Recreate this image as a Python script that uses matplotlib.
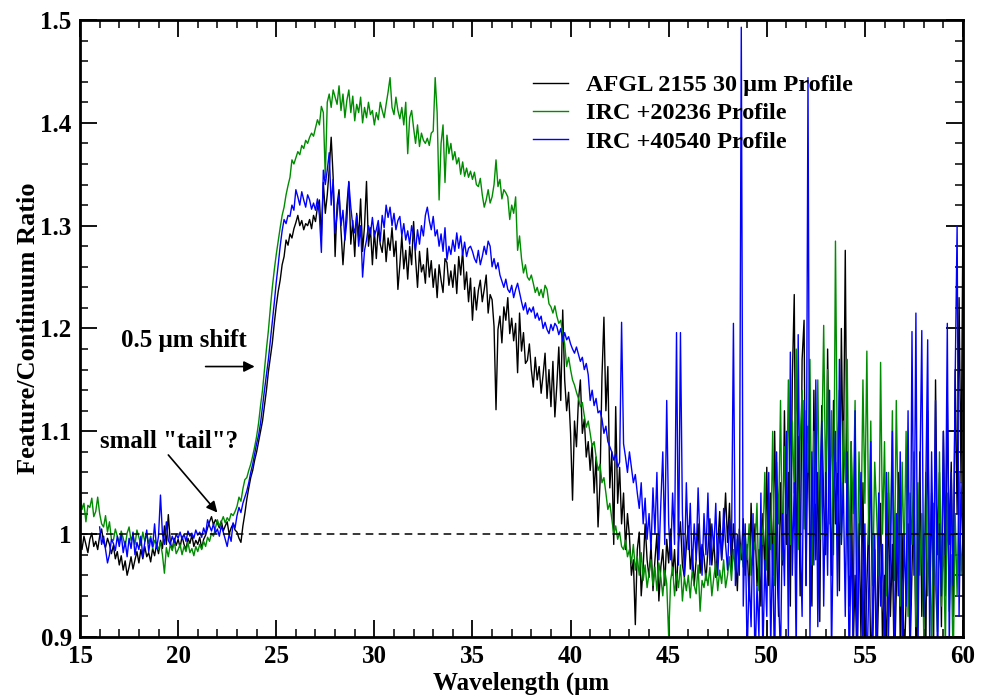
import numpy as np
import matplotlib
matplotlib.use("Agg")
import matplotlib.pyplot as plt
from matplotlib.ticker import MultipleLocator, FuncFormatter

plt.rcParams['font.family'] = ['Liberation Serif', 'DejaVu Serif']
plt.rcParams['font.weight'] = 'bold'

# feature/continuum ratios, sampled every 0.1 um (one row = 1 um)
afgl_start = 15.0
afgl = [
    0.992, 0.985, 0.998, 0.990, 0.982, 0.995, 1.001, 0.988, 0.993, 0.985,  # 15
    0.998, 1.005, 0.992, 0.987, 0.996, 0.990, 0.981, 0.989, 0.976, 0.983,
    0.970, 0.979, 0.965, 0.974, 0.960, 0.968, 0.978, 0.966, 0.975, 0.983,
    0.972, 0.985, 0.976, 0.988, 0.978, 0.982, 0.973, 0.986, 0.979, 0.990,
    0.981, 0.994, 0.986, 1.008, 0.990, 1.019, 0.992, 0.985, 0.996, 0.989,
    0.995, 0.987, 0.998, 0.990, 0.985, 0.996, 0.991, 0.999, 0.988, 0.994,  # 20
    0.990, 0.997, 0.986, 0.995, 0.999, 1.006, 1.012, 1.017, 1.009, 1.014,
    1.011, 1.006, 1.013, 1.003, 1.008, 1.012, 1.000, 1.006, 1.010, 1.004,
    1.002, 0.996, 0.992, 1.008, 1.020, 1.034, 1.045, 1.055, 1.062, 1.072,
    1.080, 1.090, 1.100, 1.110, 1.125, 1.140, 1.158, 1.172, 1.186, 1.205,
    1.222, 1.236, 1.247, 1.262, 1.270, 1.286, 1.281, 1.292, 1.288, 1.297,  # 25
    1.303, 1.310, 1.300, 1.305, 1.296, 1.302, 1.300, 1.306, 1.297, 1.310,
    1.304, 1.318, 1.325, 1.290, 1.342, 1.312, 1.330, 1.355, 1.386, 1.347,
    1.270, 1.320, 1.335, 1.295, 1.262, 1.290, 1.320, 1.343, 1.282, 1.305,
    1.270, 1.312, 1.288, 1.326, 1.275, 1.300, 1.343, 1.280, 1.298, 1.262,
    1.295, 1.268, 1.300, 1.282, 1.274, 1.296, 1.265, 1.288, 1.276, 1.298,  # 30
    1.270, 1.285, 1.238, 1.262, 1.290, 1.258, 1.276, 1.248, 1.280, 1.262,
    1.304, 1.268, 1.240, 1.275, 1.255, 1.262, 1.244, 1.278, 1.250, 1.266,
    1.240, 1.258, 1.230, 1.262, 1.247, 1.235, 1.268, 1.264, 1.242, 1.256,
    1.240, 1.262, 1.234, 1.270, 1.252, 1.276, 1.238, 1.255, 1.226, 1.249,
    1.208, 1.240, 1.218, 1.237, 1.247, 1.226, 1.238, 1.252, 1.215, 1.233,  # 35
    1.228, 1.202, 1.121, 1.199, 1.212, 1.186, 1.221, 1.208, 1.230, 1.195,
    1.210, 1.188, 1.205, 1.157, 1.215, 1.178, 1.196, 1.166, 1.169, 1.185,
    1.160, 1.143, 1.172, 1.150, 1.163, 1.137, 1.155, 1.176, 1.132, 1.160,
    1.124, 1.168, 1.114, 1.145, 1.182, 1.130, 1.218, 1.150, 1.120, 1.138,
    1.098, 1.033, 1.110, 1.085, 1.130, 1.150, 1.098, 1.112, 1.075, 1.090,  # 40
    1.062, 1.088, 1.040, 1.075, 1.007, 1.050, 1.153, 1.211, 1.120, 1.163,
    1.045, 1.080, 0.990, 1.124, 1.030, 1.065, 1.010, 1.040, 0.985, 1.020,
    0.998, 0.960, 0.975, 0.912, 0.985, 1.002, 0.940, 0.968, 1.010, 0.975,
    0.958, 0.990, 0.945, 0.975, 1.000, 0.935, 0.968, 0.985, 0.950, 0.995,
    0.972, 1.005, 0.960, 0.985, 0.945, 0.992, 1.012, 0.970, 0.958, 0.988,  # 45
    1.008, 0.966, 0.985, 0.950, 0.975, 1.010, 0.962, 0.990, 0.978, 0.955,
    0.985, 1.015, 0.970, 0.995, 0.958, 0.988, 1.022, 0.975, 1.000, 1.040,
    0.992, 1.030, 0.965, 1.010, 0.980, 0.945, 1.005, 0.975, 1.015, 0.960,
    0.990, 0.935, 1.030, 0.970, 1.010, 0.950, 0.985, 0.930, 1.020, 0.960,
    1.065, 0.950, 1.040, 0.960, 1.100, 0.985, 0.920, 1.050, 0.970, 1.120,  # 50
    0.990, 1.060, 0.930, 1.150, 1.233, 0.960, 1.095, 0.940, 1.170, 1.208,
    0.950, 1.105, 1.000, 0.930, 1.140, 0.975, 1.060, 0.915, 1.125, 1.030,
    0.980, 1.180, 1.040, 0.960, 1.130, 1.010, 1.070, 0.945, 1.200, 1.050,
    1.276, 1.020, 0.930, 1.090, 0.885, 0.960, 0.870, 1.010, 0.900, 1.050,
    0.880, 0.950, 1.020, 0.870, 0.930, 0.985, 0.865, 0.945, 1.030, 0.890,  # 55
    0.960, 0.875, 1.040, 0.920, 0.990, 0.860, 0.945, 1.060, 0.895, 1.000,
    0.870, 0.935, 1.010, 0.880, 0.965, 1.050, 0.890, 0.940, 1.080, 0.920,
    1.000, 0.870, 1.120, 0.950, 1.040, 0.890, 1.150, 0.980, 1.060, 0.910,
    1.100, 0.940, 1.130, 0.990, 1.070, 0.920, 1.160, 1.020, 1.230, 1.050,
    1.315,
]

irc20236_start = 15.0
irc20236 = [
    1.043, 1.024, 1.030, 1.012, 1.028, 1.026, 1.035, 1.017, 1.022, 1.036,  # 15
    1.020, 1.010, 1.007, 1.018, 1.002, 1.012, 0.995, 0.994, 1.005, 0.998,
    0.992, 1.003, 0.996, 0.988, 1.001, 1.007, 0.994, 0.999, 0.990, 1.004,
    0.997, 0.989, 1.002, 0.993, 1.000, 0.991, 0.998, 0.986, 0.994, 0.990,
    0.985, 0.992, 0.980, 0.962, 0.987, 0.978, 0.990, 0.984, 0.993, 0.981,
    0.985, 0.990, 0.980, 0.988, 0.983, 0.992, 0.982, 0.986, 0.979, 0.988,  # 20
    0.983, 0.990, 0.985, 0.993, 0.988, 0.997, 0.993, 1.001, 0.998, 1.006,
    1.014, 1.008, 1.012, 1.017, 1.011, 1.016, 1.013, 1.020, 1.018, 1.022,
    1.027, 1.036, 1.032, 1.044, 1.053, 1.055, 1.062, 1.068, 1.076, 1.085,
    1.095, 1.108, 1.125, 1.140, 1.160, 1.180, 1.198, 1.220, 1.240, 1.257,
    1.272, 1.285, 1.298, 1.310, 1.318, 1.330, 1.339, 1.347, 1.364, 1.360,  # 25
    1.366, 1.372, 1.369, 1.378, 1.375, 1.383, 1.380, 1.386, 1.390, 1.387,
    1.395, 1.403, 1.398, 1.416, 1.410, 1.347, 1.420, 1.428, 1.415, 1.432,
    1.425, 1.418, 1.436, 1.412, 1.428, 1.405, 1.422, 1.432, 1.410, 1.426,
    1.402, 1.418, 1.410, 1.425, 1.400, 1.415, 1.405, 1.420, 1.408, 1.412,
    1.398, 1.410, 1.403, 1.420, 1.412, 1.405, 1.418, 1.430, 1.444, 1.415,  # 30
    1.408, 1.425, 1.412, 1.404, 1.415, 1.398, 1.420, 1.370, 1.405, 1.412,
    1.395, 1.380, 1.398, 1.377, 1.390, 1.383, 1.380, 1.385, 1.378, 1.390,
    1.392, 1.444, 1.410, 1.325, 1.380, 1.398, 1.342, 1.388, 1.370, 1.380,
    1.364, 1.372, 1.360, 1.366, 1.350, 1.362, 1.348, 1.356, 1.347, 1.353,
    1.345, 1.352, 1.340, 1.338, 1.346, 1.330, 1.318, 1.325, 1.335, 1.322,  # 35
    1.328, 1.340, 1.364, 1.338, 1.345, 1.326, 1.335, 1.332, 1.328, 1.306,
    1.320, 1.312, 1.328, 1.276, 1.290, 1.268, 1.254, 1.262, 1.250, 1.247,
    1.252, 1.244, 1.235, 1.240, 1.232, 1.238, 1.230, 1.242, 1.238, 1.224,
    1.221, 1.215, 1.222, 1.212, 1.205, 1.208, 1.195, 1.185, 1.163, 1.172,
    1.160, 1.150, 1.145, 1.138, 1.132, 1.124, 1.128, 1.115, 1.104, 1.110,  # 40
    1.098, 1.085, 1.090, 1.075, 1.062, 1.068, 1.050, 1.055, 1.040, 1.024,
    1.030, 1.015, 1.000, 1.008, 0.995, 1.002, 0.988, 0.985, 0.994, 0.978,
    0.985, 0.972, 0.990, 0.965, 0.978, 0.960, 0.982, 0.955, 0.970, 0.948,
    0.962, 0.975, 0.950, 0.968, 0.945, 0.972, 0.958, 0.940, 0.965, 0.952,
    0.900, 0.955, 0.968, 0.940, 0.962, 0.948, 0.970, 0.935, 0.958, 0.945,  # 45
    0.960, 0.938, 0.965, 0.950, 0.942, 0.970, 0.925, 0.955, 0.948, 0.962,
    0.950, 0.968, 0.940, 0.958, 0.972, 0.945, 0.965, 0.952, 0.975, 0.948,
    0.960, 0.978, 0.955, 0.985, 0.965, 0.995, 0.970, 0.990, 0.968, 1.000,
    0.975, 1.010, 0.960, 0.995, 0.985, 1.030, 0.945, 1.015, 0.990, 1.060,
    0.965, 1.040, 0.985, 1.100, 0.950, 1.070, 1.010, 1.130, 0.975, 1.085,  # 50
    1.020, 1.150, 0.990, 1.110, 1.040, 1.180, 0.985, 1.090, 1.140, 1.005,
    1.120, 1.060, 1.170, 0.970, 1.100, 1.030, 1.150, 0.995, 1.080, 1.203,
    1.040, 1.160, 1.010, 1.120, 0.980, 1.285, 1.060, 1.140, 0.990, 1.110,
    1.050, 1.170, 0.960, 1.090, 1.020, 1.130, 0.940, 1.080, 1.000, 1.150,
    1.030, 1.178, 0.990, 1.110, 0.950, 1.070, 1.020, 0.960, 1.167, 1.000,  # 55
    1.090, 0.940, 1.060, 0.980, 1.120, 0.955, 1.130, 1.010, 0.930, 1.070,
    0.970, 1.100, 0.920, 1.040, 0.990, 1.080, 0.910, 1.050, 0.960, 1.020,
    0.900, 1.060, 0.940, 1.010, 0.880, 1.030, 0.950, 0.905, 1.080, 0.930,
    1.000, 0.890, 1.040, 0.925, 0.980, 0.870, 1.020, 0.940, 1.060, 0.960,
    1.000,
]

irc40540_start = 16.0
irc40540 = [
    1.007, 0.990, 0.998, 0.985, 0.972, 0.980, 0.995, 0.991, 0.984, 0.998,  # 16
    0.988, 1.000, 0.982, 0.993, 0.978, 0.996, 0.986, 1.002, 0.980, 0.992,
    0.985, 0.998, 0.978, 0.992, 1.004, 0.983, 0.996, 0.988, 1.010, 0.986,
    0.998, 1.038, 1.000, 0.990, 1.012, 0.994, 0.990, 0.998, 0.992, 1.000,
    0.996, 1.002, 0.995, 1.000, 0.993, 1.003, 0.998, 1.001, 0.996, 1.004,  # 20
    0.999, 1.002, 0.997, 1.006, 1.000, 1.014, 1.008, 1.003, 1.010, 1.001,
    1.005, 0.998, 1.008, 1.002, 0.995, 0.988, 1.000, 0.993, 1.011, 1.006,
    1.018, 1.026, 1.021, 1.030, 1.036, 1.042, 1.050, 1.060, 1.068, 1.078,
    1.088, 1.096, 1.108, 1.124, 1.140, 1.155, 1.170, 1.188, 1.205, 1.225,
    1.245, 1.262, 1.280, 1.295, 1.306, 1.302, 1.310, 1.309, 1.320, 1.315,  # 25
    1.335, 1.328, 1.320, 1.333, 1.325, 1.318, 1.330, 1.325, 1.316, 1.322,
    1.315, 1.326, 1.310, 1.274, 1.354, 1.340, 1.354, 1.371, 1.320, 1.345,
    1.293, 1.310, 1.330, 1.300, 1.315, 1.286, 1.305, 1.342, 1.318, 1.300,
    1.293, 1.310, 1.280, 1.300, 1.250, 1.276, 1.286, 1.300, 1.292, 1.308,
    1.290, 1.296, 1.305, 1.285, 1.310, 1.298, 1.320, 1.308, 1.318, 1.300,  # 30
    1.312, 1.296, 1.305, 1.309, 1.290, 1.302, 1.286, 1.295, 1.282, 1.300,
    1.289, 1.276, 1.296, 1.282, 1.300, 1.290, 1.310, 1.318, 1.305, 1.296,
    1.309, 1.290, 1.296, 1.280, 1.292, 1.275, 1.298, 1.267, 1.280, 1.272,
    1.286, 1.275, 1.293, 1.278, 1.290, 1.272, 1.284, 1.270, 1.278, 1.280,
    1.275, 1.268, 1.264, 1.276, 1.262, 1.270, 1.280, 1.272, 1.285, 1.280,  # 35
    1.260, 1.268, 1.258, 1.264, 1.252, 1.246, 1.240, 1.248, 1.238, 1.235,
    1.242, 1.230, 1.238, 1.244, 1.235, 1.226, 1.218, 1.225, 1.214, 1.220,
    1.216, 1.221, 1.210, 1.215, 1.208, 1.212, 1.200, 1.206, 1.199, 1.195,
    1.204, 1.198, 1.205, 1.202, 1.194, 1.200, 1.188, 1.196, 1.189, 1.192,
    1.185, 1.180, 1.176, 1.182, 1.175, 1.168, 1.172, 1.160, 1.166, 1.155,  # 40
    1.130, 1.140, 1.125, 1.132, 1.118, 1.120, 1.112, 1.098, 1.105, 1.090,
    1.085, 1.080, 1.072, 1.078, 1.065, 1.070, 1.206, 1.088, 1.075, 1.060,
    1.080, 1.065, 1.050, 1.058, 1.040, 1.025, 1.050, 1.010, 1.035, 0.995,
    1.020, 0.985, 1.045, 1.000, 1.060, 0.975, 1.030, 1.080, 0.990, 1.130,
    1.010, 0.975, 1.040, 0.990, 1.196, 0.970, 1.196, 1.020, 0.960, 1.050,  # 45
    0.985, 1.030, 0.965, 1.010, 0.975, 1.045, 0.990, 0.960, 1.020, 0.980,
    1.040, 0.970, 1.010, 0.985, 1.030, 0.960, 1.005, 0.975, 1.025, 0.990,
    0.965, 1.015, 0.980, 1.205, 0.950, 1.000, 0.960, 1.493, 0.930, 1.010,
    0.880, 0.960, 0.910, 1.020, 0.870, 0.950, 0.900, 1.040, 0.880, 0.975,
    0.920, 1.060, 0.890, 0.990, 0.860, 1.080, 0.940, 0.880, 1.020, 0.950,  # 50
    1.100, 0.900, 1.177, 0.960, 1.050, 0.880, 1.194, 1.000, 0.920, 1.130,
    0.950, 1.444, 0.900, 1.080, 0.970, 1.150, 0.910, 1.040, 1.110, 0.930,
    1.060, 0.960, 1.140, 0.880, 1.020, 1.100, 0.940, 1.170, 0.990, 1.050,
    0.920, 1.080, 0.860, 1.000, 0.900, 1.120, 0.870, 0.980, 1.060, 0.880,
    1.010, 0.860, 0.950, 1.090, 0.880, 1.000, 0.870, 1.040, 0.930, 0.990,  # 55
    0.870, 1.060, 0.900, 0.980, 1.100, 0.860, 1.020, 0.940, 1.080, 0.880,
    1.000, 0.930, 1.120, 0.890, 1.197, 0.960, 1.215, 0.880, 1.050, 1.198,
    0.920, 1.040, 1.189, 0.900, 1.080, 0.950, 1.130, 0.870, 1.010, 0.940,
    1.100, 0.980, 1.205, 0.890, 1.060, 0.950, 1.150, 1.300, 0.920, 1.050,
    0.980,
]

step = 0.1
labels = ["AFGL 2155 30 \u03bcm Profile", "IRC +20236 Profile", "IRC +40540 Profile"]
colors = ["black", "#008c00", "#0000ff"]

fig = plt.figure(figsize=(9.88, 6.95), dpi=100)
ax = fig.add_axes([0.081, 0.0835, 0.8937, 0.8877])

for start, vals, lab, col in zip([afgl_start, irc20236_start, irc40540_start],
                                 [afgl, irc20236, irc40540], labels, colors):
    vals = np.array(vals)
    wl = start + step * np.arange(len(vals))
    ax.plot(wl, vals, color=col, lw=1.0, label=lab)

ax.axhline(1.0, color="black", lw=1.1, dashes=(5, 3.5), zorder=3)

ax.set_xlim(15, 60)
ax.set_ylim(0.9, 1.5)
ax.xaxis.set_major_locator(MultipleLocator(5))
ax.xaxis.set_minor_locator(MultipleLocator(1))
ax.yaxis.set_major_locator(MultipleLocator(0.1))
ax.yaxis.set_minor_locator(MultipleLocator(0.02))
ax.yaxis.set_major_formatter(FuncFormatter(lambda v, p: f"{v:g}"))
ax.tick_params(which="both", direction="in", top=True, right=True, labelsize=18)
ax.tick_params(which="major", length=12, width=1.3, pad=6)
ax.tick_params(which="minor", length=6, width=1.1)
for sp in ax.spines.values():
    sp.set_linewidth(2.0)

ax.set_xlabel("Wavelength (\u03bcm", fontsize=18, fontweight="bold", labelpad=2)
ax.set_ylabel("Feature/Continuum Ratio", fontsize=19, fontweight="bold", labelpad=0)

ax.legend(loc="upper left", bbox_to_anchor=(0.513, 0.912), frameon=False,
          fontsize=17.5, handlelength=1.45, handletextpad=0.75,
          labelspacing=0.25, borderpad=0, borderaxespad=0)

ax.text(17.1, 1.182, "0.5 \u03bcm shift", fontsize=18, fontweight="bold")
ax.annotate("", xy=(23.9, 1.163), xytext=(21.4, 1.163),
            arrowprops=dict(arrowstyle="-|>", color="black", lw=1.2,
                            mutation_scale=16, shrinkA=0, shrinkB=0))
ax.text(16.0, 1.084, "small \"tail\"?", fontsize=18, fontweight="bold")
ax.annotate("", xy=(22.0, 1.021), xytext=(19.5, 1.077),
            arrowprops=dict(arrowstyle="-|>", color="black", lw=1.2,
                            mutation_scale=16, shrinkA=0, shrinkB=0))

fig.savefig("out.png", dpi=100)
